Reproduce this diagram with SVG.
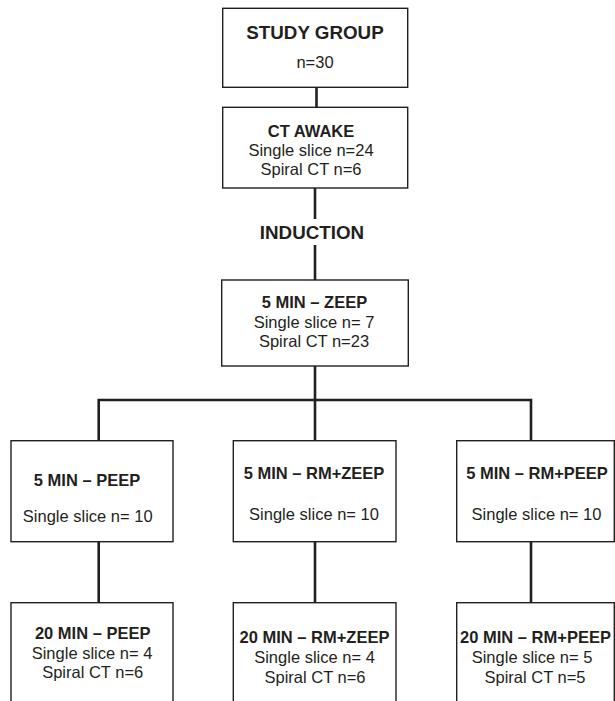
<svg xmlns="http://www.w3.org/2000/svg" width="615" height="701" viewBox="0 0 615 701">
<style>
  .box { fill: #ffffff; stroke: #231f20; stroke-width: 1.4; }
  .conn { fill: none; stroke: #231f20; stroke-width: 2.6; }
  text { font-family: "Liberation Sans", Arial, sans-serif; fill: #231f20; text-anchor: middle; }
  .b { font-weight: bold; font-size: 16.5px; }
  .r { font-size: 16.5px; }
  .big { font-weight: bold; font-size: 18.8px; }
</style>
<rect width="615" height="701" fill="#ffffff"/>
<g id="connectors">
  <line class="conn" x1="316.5" y1="87.5" x2="316.5" y2="107.5"/>
  <line class="conn" x1="315" y1="188" x2="315" y2="219"/>
  <line class="conn" x1="315" y1="245" x2="315" y2="280"/>
  <line class="conn" x1="315" y1="366" x2="315" y2="441"/>
  <polyline class="conn" points="98.7,441 98.7,400 531,400 531,441"/>
  <line class="conn" x1="98.7" y1="542" x2="98.7" y2="603"/>
  <line class="conn" x1="315" y1="542" x2="315" y2="603"/>
  <line class="conn" x1="531" y1="542" x2="531" y2="603"/>
</g>
<g id="study-group">
  <rect class="box" x="222.7" y="8.3" width="185" height="79"/>
  <text class="big" x="315" y="39">STUDY GROUP</text>
  <text class="r" x="315" y="68.3">n=30</text>
</g>
<g id="ct-awake">
  <rect class="box" x="222.7" y="107.3" width="185" height="80.7"/>
  <text class="b" x="311" y="136.7">CT AWAKE</text>
  <text class="r" x="311" y="155.5">Single slice n=24</text>
  <text class="r" x="311" y="175">Spiral CT n=6</text>
</g>
<g id="induction">
  <text class="big" x="312" y="239.3">INDUCTION</text>
</g>
<g id="zeep-5">
  <rect class="box" x="221.7" y="280" width="186.6" height="86"/>
  <text class="b" x="314.5" y="308.3">5 MIN – ZEEP</text>
  <text class="r" x="314" y="328.3">Single slice n= 7</text>
  <text class="r" x="314" y="347.3">Spiral CT n=23</text>
</g>
<g id="peep-5">
  <rect class="box" x="11" y="440.7" width="162" height="101"/>
  <text class="b" x="87" y="486">5 MIN – PEEP</text>
  <text class="r" x="87.7" y="522">Single slice n= 10</text>
</g>
<g id="rmzeep-5">
  <rect class="box" x="233.3" y="440.7" width="162.7" height="101"/>
  <text class="b" x="314" y="479">5 MIN – RM+ZEEP</text>
  <text class="r" x="314" y="520">Single slice n= 10</text>
</g>
<g id="rmpeep-5">
  <rect class="box" x="456.7" y="440.7" width="157.6" height="101"/>
  <text class="b" x="537" y="479">5 MIN – RM+PEEP</text>
  <text class="r" x="536.5" y="520">Single slice n= 10</text>
</g>
<g id="peep-20">
  <rect class="box" x="11" y="602.7" width="162" height="120"/>
  <text class="b" x="92.7" y="639">20 MIN – PEEP</text>
  <text class="r" x="92" y="658.5">Single slice n= 4</text>
  <text class="r" x="92.7" y="678">Spiral CT n=6</text>
</g>
<g id="rmzeep-20">
  <rect class="box" x="233.3" y="602.7" width="162.7" height="120"/>
  <text class="b" x="314.5" y="642.7">20 MIN – RM+ZEEP</text>
  <text class="r" x="314.5" y="662.7">Single slice n= 4</text>
  <text class="r" x="315" y="682.7">Spiral CT n=6</text>
</g>
<g id="rmpeep-20">
  <rect class="box" x="456.7" y="602.7" width="157.6" height="120"/>
  <text class="b" x="535.5" y="642.7">20 MIN – RM+PEEP</text>
  <text class="r" x="532" y="662.7">Single slice n= 5</text>
  <text class="r" x="535" y="682.7">Spiral CT n=5</text>
</g>
</svg>
